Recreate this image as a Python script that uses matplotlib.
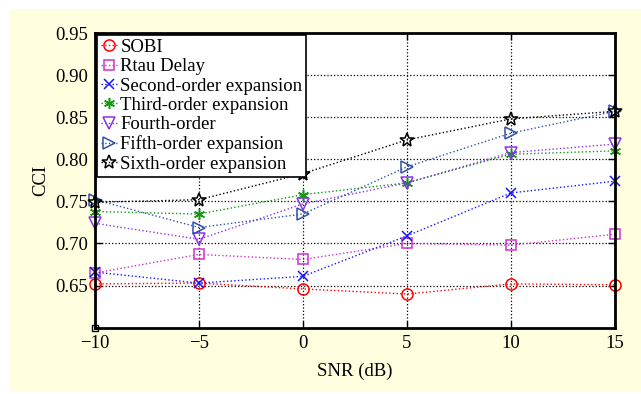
import matplotlib.pyplot as plt
from matplotlib.patches import Rectangle

plt.rcParams["font.family"] = ["Liberation Serif", "DejaVu Serif"]
plt.rcParams["mathtext.fontset"] = "stix"

snr = [-10, -5, 0, 5, 10, 15]

sobi = [0.652, 0.653, 0.646, 0.640, 0.652, 0.651]
rtau = [0.665, 0.687, 0.681, 0.700, 0.698, 0.711]
second = [0.666, 0.653, 0.661, 0.709, 0.760, 0.774]
third = [0.738, 0.735, 0.758, 0.772, 0.806, 0.810]
fourth = [0.724, 0.705, 0.747, 0.772, 0.808, 0.818]
fifth = [0.752, 0.719, 0.735, 0.791, 0.831, 0.857]
sixth = [0.749, 0.752, 0.783, 0.823, 0.848, 0.857]

labels = ["SOBI", "Rtau Delay", "Second-order expansion", "Third-order expansion",
          "Fourth-order", "Fifth-order expansion", "Sixth-order expansion"]
yticks = [0.65, 0.70, 0.75, 0.80, 0.85, 0.90, 0.95]

fig = plt.figure(figsize=(6.41, 3.94), dpi=100)
fig.patches.append(Rectangle((10 / 641, 0.005), 1, 1 - 9 / 394 - 0.005,
                             transform=fig.transFigure, facecolor="#FFFFE0",
                             edgecolor="none", zorder=-10))
ax = fig.add_axes([0.1482, 0.1683, 0.8108, 0.7479])

styles = [
    dict(color="red", marker="o", mfc="none", markersize=8),
    dict(color="#CC33CC", marker="s", mfc="none", markersize=7.5),
    dict(color="#1515FF", marker="x", markersize=7),
    dict(color="#119911", marker=(6, 2, 0), markersize=8),
    dict(color="#8833EE", marker="v", mfc="none", markersize=9),
    dict(color="#3050B0", marker=">", mfc="none", markersize=9),
    dict(color="black", marker="*", mfc="none", markersize=10),
]
series = [sobi, rtau, second, third, fourth, fifth, sixth]
for vals, lab, st in zip(series, labels, styles):
    ax.plot(snr, vals, linestyle=":", linewidth=1.0,
            markeredgewidth=1.1, label=lab, clip_on=False, **st)

# small corner marker at the origin of the axes
ax.plot([-10], [0.6], marker="s", mfc="none", mec="black", markersize=5,
        markeredgewidth=1, clip_on=False)

ax.set_xlim(-10, 15)
ax.set_ylim(0.6, 0.95)
ax.set_xticks(snr)
ax.set_xticklabels(["\u221210", "\u22125", "0", "5", "10", "15"])
ax.set_yticks(yticks)
ax.set_yticklabels(["%.2f" % v for v in yticks])
ax.tick_params(labelsize=13.5, direction="in", length=5, width=1,
               top=True, right=True, pad=5)
ax.grid(True, color="black", linestyle=":", linewidth=0.9)
for sp in ax.spines.values():
    sp.set_linewidth(2)

ax.set_xlabel("SNR (dB)", fontsize=13.5, labelpad=8)
ax.set_ylabel("CCI", fontsize=13.5)

leg = ax.legend(loc="upper left", fontsize=13.5, frameon=True, fancybox=False,
                edgecolor="black", framealpha=1, borderaxespad=0.1,
                handlelength=0.9, handletextpad=0.15, labelspacing=0.12,
                borderpad=0.2)
leg.get_frame().set_linewidth(1.2)

fig.savefig("out.png", dpi=100)
